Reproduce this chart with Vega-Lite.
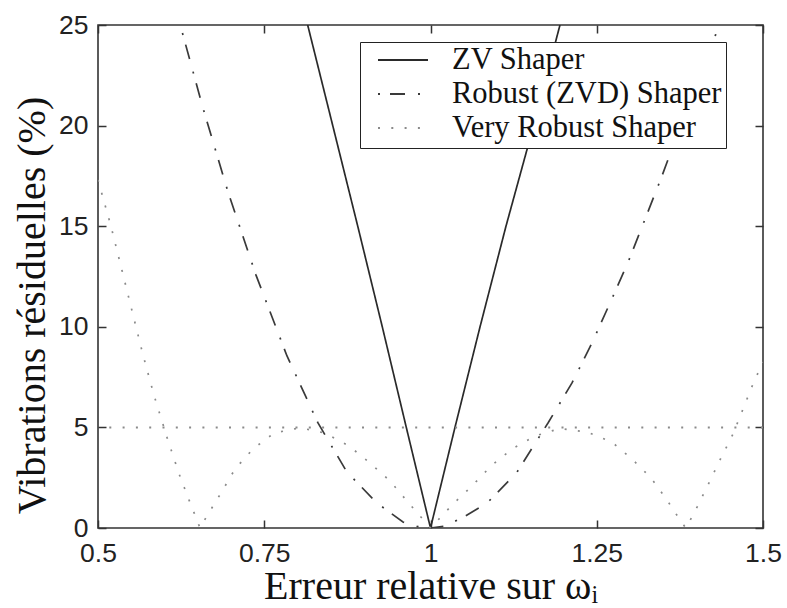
{
  "$schema": "https://vega.github.io/schema/vega-lite/v6.json",
  "width": 665,
  "height": 503,
  "autosize": {"type": "none"},
  "padding": {"left": 98, "top": 25, "right": 24, "bottom": 80},
  "background": "white",
  "config": {
    "view": {"stroke": "#333", "strokeWidth": 1.6},
    "axis": {
      "domain": false,
      "grid": false,
      "tickSize": -8,
      "tickColor": "#333",
      "tickWidth": 1.5,
      "labelFont": "Liberation Sans",
      "labelFontSize": 26.5,
      "labelColor": "#222",
      "labelFlush": false,
      "titleFont": "Liberation Serif",
      "titleFontSize": 40,
      "titleFontWeight": "normal",
      "titleColor": "#111"
    }
  },
  "data": {
    "values": [
      {"s": "ZV Shaper", "r": 0.8153, "v": 25},
      {"s": "ZV Shaper", "r": 0.853, "v": 20},
      {"s": "ZV Shaper", "r": 0.8906, "v": 15},
      {"s": "ZV Shaper", "r": 0.9275, "v": 10},
      {"s": "ZV Shaper", "r": 0.9636, "v": 5},
      {"s": "ZV Shaper", "r": 1.0, "v": 0},
      {"s": "ZV Shaper", "r": 1.0368, "v": 5},
      {"s": "ZV Shaper", "r": 1.0745, "v": 10},
      {"s": "ZV Shaper", "r": 1.1135, "v": 15},
      {"s": "ZV Shaper", "r": 1.155, "v": 20},
      {"s": "ZV Shaper", "r": 1.1947, "v": 25},

      {"s": "Robust (ZVD) Shaper", "r": 0.627, "v": 24.6},
      {"s": "Robust (ZVD) Shaper", "r": 0.6579, "v": 20.87},
      {"s": "Robust (ZVD) Shaper", "r": 0.6955, "v": 16.7},
      {"s": "Robust (ZVD) Shaper", "r": 0.7376, "v": 12.57},
      {"s": "Robust (ZVD) Shaper", "r": 0.7842, "v": 8.55},
      {"s": "Robust (ZVD) Shaper", "r": 0.8308, "v": 5.22},
      {"s": "Robust (ZVD) Shaper", "r": 0.8744, "v": 2.78},
      {"s": "Robust (ZVD) Shaper", "r": 0.9195, "v": 1.24},
      {"s": "Robust (ZVD) Shaper", "r": 0.9586, "v": 0.3},
      {"s": "Robust (ZVD) Shaper", "r": 0.98, "v": 0.08},
      {"s": "Robust (ZVD) Shaper", "r": 1.0, "v": 0},
      {"s": "Robust (ZVD) Shaper", "r": 1.02, "v": 0.08},
      {"s": "Robust (ZVD) Shaper", "r": 1.0474, "v": 0.5},
      {"s": "Robust (ZVD) Shaper", "r": 1.085, "v": 1.24},
      {"s": "Robust (ZVD) Shaper", "r": 1.1045, "v": 1.89},
      {"s": "Robust (ZVD) Shaper", "r": 1.1301, "v": 2.78},
      {"s": "Robust (ZVD) Shaper", "r": 1.1767, "v": 5.22},
      {"s": "Robust (ZVD) Shaper", "r": 1.2128, "v": 7.21},
      {"s": "Robust (ZVD) Shaper", "r": 1.2429, "v": 9.2},
      {"s": "Robust (ZVD) Shaper", "r": 1.2729, "v": 11.4},
      {"s": "Robust (ZVD) Shaper", "r": 1.297, "v": 13.2},
      {"s": "Robust (ZVD) Shaper", "r": 1.3256, "v": 15.6},
      {"s": "Robust (ZVD) Shaper", "r": 1.3481, "v": 17.5},
      {"s": "Robust (ZVD) Shaper", "r": 1.3571, "v": 18.3},
      {"s": "Robust (ZVD) Shaper", "r": 1.4278, "v": 24.4},
      {"s": "Robust (ZVD) Shaper", "r": 1.4323, "v": 25},

      {"s": "Very Robust Shaper", "r": 0.5, "v": 17.3},
      {"s": "Very Robust Shaper", "r": 0.5195, "v": 15.0},
      {"s": "Very Robust Shaper", "r": 0.5361, "v": 12.8},
      {"s": "Very Robust Shaper", "r": 0.5526, "v": 10.6},
      {"s": "Very Robust Shaper", "r": 0.5677, "v": 8.6},
      {"s": "Very Robust Shaper", "r": 0.5842, "v": 6.6},
      {"s": "Very Robust Shaper", "r": 0.6038, "v": 4.5},
      {"s": "Very Robust Shaper", "r": 0.6218, "v": 2.7},
      {"s": "Very Robust Shaper", "r": 0.6368, "v": 1.4},
      {"s": "Very Robust Shaper", "r": 0.6534, "v": 0},
      {"s": "Very Robust Shaper", "r": 0.6639, "v": 0.6},
      {"s": "Very Robust Shaper", "r": 0.685, "v": 1.74},
      {"s": "Very Robust Shaper", "r": 0.706, "v": 2.93},
      {"s": "Very Robust Shaper", "r": 0.7331, "v": 3.93},
      {"s": "Very Robust Shaper", "r": 0.7647, "v": 4.72},
      {"s": "Very Robust Shaper", "r": 0.8038, "v": 4.98},
      {"s": "Very Robust Shaper", "r": 0.8414, "v": 4.72},
      {"s": "Very Robust Shaper", "r": 0.8774, "v": 4.08},
      {"s": "Very Robust Shaper", "r": 0.909, "v": 3.23},
      {"s": "Very Robust Shaper", "r": 0.9391, "v": 2.34},
      {"s": "Very Robust Shaper", "r": 0.9647, "v": 1.34},
      {"s": "Very Robust Shaper", "r": 1.0, "v": 0},
      {"s": "Very Robust Shaper", "r": 1.0338, "v": 1.19},
      {"s": "Very Robust Shaper", "r": 1.0624, "v": 2.09},
      {"s": "Very Robust Shaper", "r": 1.091, "v": 3.08},
      {"s": "Very Robust Shaper", "r": 1.1226, "v": 3.93},
      {"s": "Very Robust Shaper", "r": 1.1571, "v": 4.57},
      {"s": "Very Robust Shaper", "r": 1.1947, "v": 4.95},
      {"s": "Very Robust Shaper", "r": 1.2353, "v": 4.77},
      {"s": "Very Robust Shaper", "r": 1.2729, "v": 4.27},
      {"s": "Very Robust Shaper", "r": 1.303, "v": 3.43},
      {"s": "Very Robust Shaper", "r": 1.3316, "v": 2.49},
      {"s": "Very Robust Shaper", "r": 1.3556, "v": 1.39},
      {"s": "Very Robust Shaper", "r": 1.3782, "v": 0.25},
      {"s": "Very Robust Shaper", "r": 1.3842, "v": 0},
      {"s": "Very Robust Shaper", "r": 1.4008, "v": 1.04},
      {"s": "Very Robust Shaper", "r": 1.4188, "v": 2.24},
      {"s": "Very Robust Shaper", "r": 1.4368, "v": 3.48},
      {"s": "Very Robust Shaper", "r": 1.4549, "v": 4.67},
      {"s": "Very Robust Shaper", "r": 1.4699, "v": 5.91},
      {"s": "Very Robust Shaper", "r": 1.485, "v": 7.16},
      {"s": "Very Robust Shaper", "r": 1.5, "v": 8.25}
    ]
  },
  "layer": [
    {
      "mark": {"type": "line", "strokeWidth": 1.7, "strokeCap": "butt", "clip": true},
      "encoding": {
        "x": {
          "field": "r", "type": "quantitative",
          "scale": {"domain": [0.5, 1.5], "nice": false, "zero": false},
          "axis": {"title": "Erreur relative sur ωᵢ", "values": [0.5, 0.75, 1, 1.25, 1.5], "format": ".3~g", "labelPadding": 20, "titlePadding": 0}
        },
        "y": {
          "field": "v", "type": "quantitative",
          "scale": {"domain": [0, 25], "nice": false},
          "axis": {"title": "Vibrations résiduelles (%)", "values": [0, 5, 10, 15, 20, 25], "format": "d", "labelPadding": 18, "titlePadding": 6, "titleY": 280}
        },
        "color": {
          "field": "s", "type": "nominal",
          "scale": {"domain": ["ZV Shaper", "Robust (ZVD) Shaper", "Very Robust Shaper"], "range": ["#2a2a2a", "#3a3a3a", "#8a8a8a"]},
          "legend": {
            "title": null, "orient": "none", "legendX": 262, "legendY": 17,
            "fillColor": "#ffffff", "strokeColor": "#222222", "padding": 4.5,
            "labelFont": "Liberation Serif", "labelFontSize": 30.5, "labelColor": "#111", "labelLimit": 500,
            "symbolType": "stroke", "symbolSize": 2500, "symbolStrokeWidth": 1.8, "symbolOffset": 12.5,
            "labelOffset": 23, "rowPadding": 3, "clipHeight": 27
          }
        },
        "strokeDash": {
          "field": "s", "type": "nominal",
          "scale": {"domain": ["ZV Shaper", "Robust (ZVD) Shaper", "Very Robust Shaper"], "range": [[1, 0], [2, 10, 15, 13], [2, 11.3]]}
        }
      }
    },
    {
      "data": {"values": [{"level": 5}]},
      "mark": {"type": "rule", "color": "#8a8a8a", "strokeWidth": 2, "strokeCap": "butt", "strokeDash": [2, 11.3]},
      "encoding": {
        "y": {"field": "level", "type": "quantitative", "scale": {"domain": [0, 25], "nice": false}, "axis": null}
      }
    },
    {
      "mark": {"type": "point", "opacity": 0},
      "encoding": {
        "x": {
          "field": "r", "type": "quantitative",
          "scale": {"domain": [0.5, 1.5], "nice": false, "zero": false},
          "axis": {"orient": "top", "labels": false, "title": null, "values": [0.5, 0.75, 1, 1.25, 1.5]}
        },
        "y": {
          "field": "v", "type": "quantitative",
          "scale": {"domain": [0, 25], "nice": false},
          "axis": {"orient": "right", "labels": false, "title": null, "values": [0, 5, 10, 15, 20, 25]}
        }
      }
    }
  ],
  "resolve": {"axis": {"x": "independent", "y": "independent"}}
}
